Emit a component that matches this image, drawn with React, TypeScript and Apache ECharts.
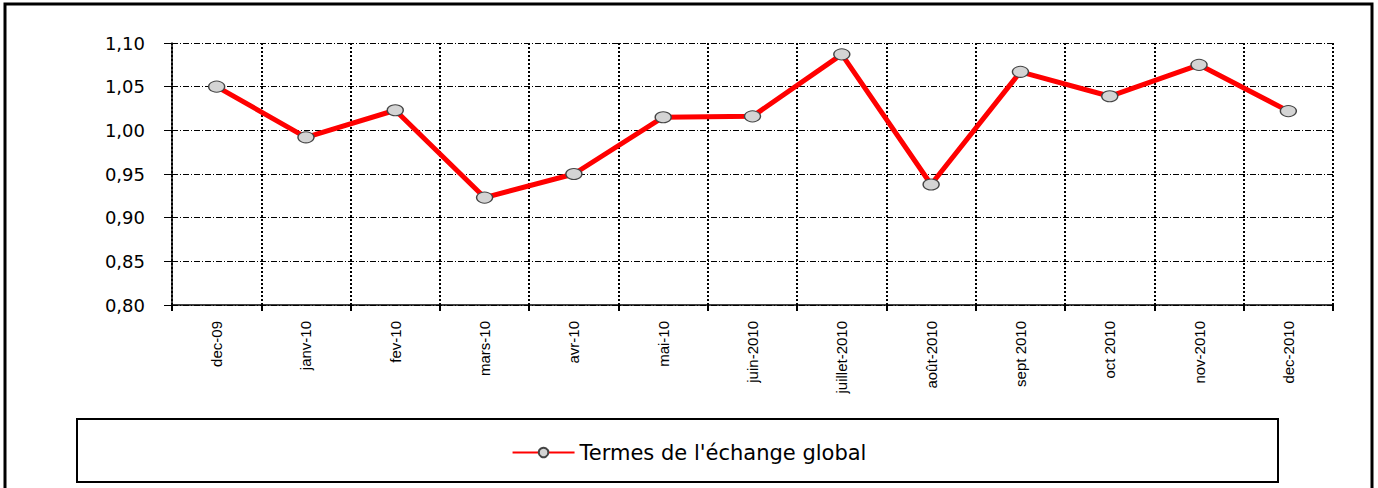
import React, { useEffect, useRef } from "react";
import * as echarts from "echarts";

const categories = [
  "dec-09",
  "janv-10",
  "fev-10",
  "mars-10",
  "avr-10",
  "mai-10",
  "juin-2010",
  "juillet-2010",
  "août-2010",
  "sept 2010",
  "oct 2010",
  "nov-2010",
  "dec-2010",
];

const termesValues = [1.05, 0.992, 1.023, 0.923, 0.95, 1.015, 1.016, 1.087, 0.938, 1.067, 1.039, 1.075, 1.022];

const seriesName = "Termes de l'échange global";

const yMin = 0.8;
const yMax = 1.1;
const yInterval = 0.05;

export default function App() {
  const ref = useRef<HTMLDivElement>(null);

  useEffect(() => {
    if (!ref.current) return;
    const chart = echarts.init(ref.current, undefined, { renderer: "svg" });
    const font = "'Liberation Sans', Arial, sans-serif";
    const wide = "'DejaVu Sans', 'Liberation Sans', sans-serif";
    chart.setOption({
      animation: false,
      backgroundColor: "#ffffff",
      textStyle: { fontFamily: font },
      grid: { left: 172, top: 43, right: 45, bottom: 183, containLabel: false },
      xAxis: {
        type: "category",
        data: categories,
        boundaryGap: true,
        axisLine: { show: true, lineStyle: { color: "#000", width: 1.5 } },
        axisTick: { show: true, length: 6, interval: 0, lineStyle: { color: "#000", width: 2 } },
        axisLabel: {
          interval: 0,
          rotate: 90,
          margin: 16,
          fontSize: 15,
          color: "#000",
          fontFamily: font,
        },
        splitLine: {
          show: true,
          interval: 0,
          lineStyle: { color: "#000", width: 2, type: [2, 2] },
        },
      },
      yAxis: {
        type: "value",
        min: yMin,
        max: yMax,
        interval: yInterval,
        axisLine: { show: true, lineStyle: { color: "#000", width: 1.5 } },
        axisTick: { show: true, length: 8, lineStyle: { color: "#000", width: 1 } },
        axisLabel: {
          margin: 27,
          fontSize: 18,
          color: "#000",
          fontFamily: wide,
          formatter: (v: number) => v.toFixed(2).replace(".", ","),
        },
        splitLine: {
          show: true,
          lineStyle: { color: "#000", width: 1, type: [6, 2, 1, 2] },
        },
      },
      legend: {
        show: true,
        left: "center",
        top: 437,
        itemWidth: 62,
        itemHeight: 12,
        itemGap: 6,
        textStyle: { fontSize: 21, color: "#000", fontFamily: wide },
        data: [seriesName],
      },
      graphic: [
        {
          type: "rect",
          shape: { x: 77, y: 419, width: 1201, height: 63 },
          style: { fill: "none", stroke: "#000", lineWidth: 2 },
          z: -1,
        },
        {
          type: "polyline",
          shape: { points: [[5, 500], [5, 4], [1372, 4], [1372, 500]] },
          style: { fill: "none", stroke: "#000", lineWidth: 3 },
        },
      ],
      series: [
        {
          name: seriesName,
          type: "line",
          data: termesValues,
          symbol: "circle",
          symbolSize: [16, 11],
          showAllSymbol: true,
          lineStyle: { color: "#ff0000", width: 5 },
          itemStyle: { color: "#d4d4d4", borderColor: "#444", borderWidth: 1.2 },
          z: 3,
        },
      ],
    });
    return () => chart.dispose();
  }, []);

  return (
    <div
      ref={ref}
      style={{ position: "absolute", left: 0, top: 0, width: 1378, height: 488 }}
    />
  );
}
